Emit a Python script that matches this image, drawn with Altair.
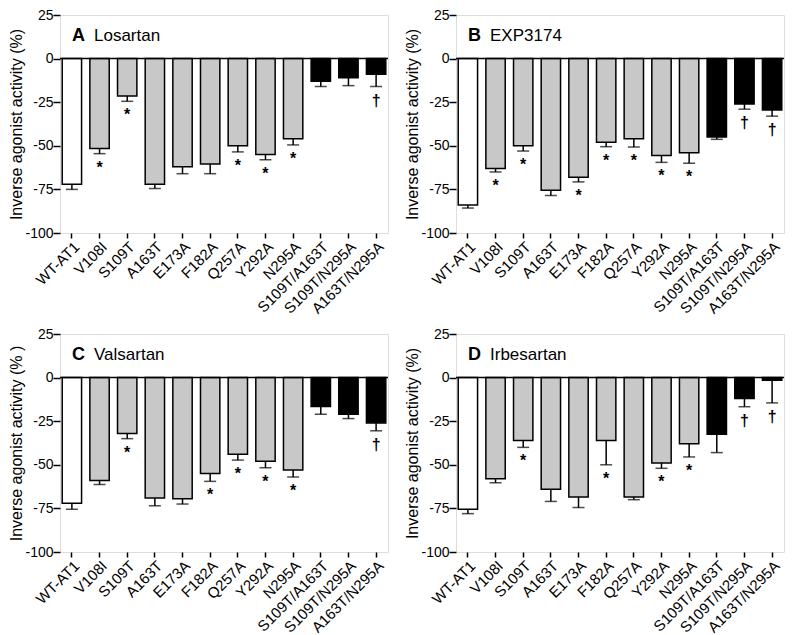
import altair as alt
import pandas as pd

categories = ["WT-AT1", "V108I", "S109T", "A163T", "E173A", "F182A", "Q257A",
              "Y292A", "N295A", "S109T/A163T", "S109T/N295A", "A163T/N295A"]
groups = ["wt", "single", "single", "single", "single", "single", "single",
          "single", "single", "double", "double", "double"]

# Panel A: Losartan
losartan_mean = [-72, -51.5, -21.5, -72, -62, -60.5, -50, -55, -46, -13, -11, -9]
losartan_sem = [3, 3, 3, 2.5, 4, 5.5, 3.5, 3, 3.5, 3, 4.5, 7]
losartan_sig = ["", "*", "*", "", "", "", "*", "*", "*", "", "", "†"]

# Panel B: EXP3174
exp_mean = [-84, -63, -50, -75.5, -68, -48, -46, -55.5, -54, -45, -26, -29.5]
exp_sem = [1.7, 2, 3, 3, 2.7, 2.5, 4.7, 4, 6, 1.3, 3, 3.5]
exp_sig = ["", "*", "*", "", "*", "*", "*", "*", "*", "", "†", "†"]

# Panel C: Valsartan
valsartan_mean = [-72, -59, -32, -69, -69.5, -55, -44, -48, -53, -16.5, -21, -26]
valsartan_sem = [3.5, 2.3, 3, 4.5, 3, 4.5, 3.3, 3.7, 4, 4.5, 2.5, 4.5]
valsartan_sig = ["", "", "*", "", "", "*", "*", "*", "*", "", "", "†"]

# Panel D: Irbesartan
irbesartan_mean = [-75.5, -58, -36, -64, -68.5, -36, -68.5, -49, -38, -32.5, -12, -1.5]
irbesartan_sem = [2.5, 2.3, 4, 7, 6, 14, 1.5, 3, 7.5, 10.5, 4.7, 13]
irbesartan_sig = ["", "", "*", "", "", "*", "", "*", "*", "", "†", "†"]

y_ticks = [-100, -75, -50, -25, 0, 25]
FONT = "Liberation Sans"
W, H = 328, 218


def panel(letter, name, mean, sem, sig, ytitle):
    df = pd.DataFrame({
        "mutant": categories,
        "group": groups,
        "value": mean,
        "sem": sem,
        "sig": sig,
    })
    df["low"] = df["value"] - df["sem"]
    base = alt.Chart(df)
    x = alt.X("mutant:N", sort=categories,
              scale=alt.Scale(paddingInner=0.3, paddingOuter=0.08),
              axis=alt.Axis(title=None, labelAngle=-45, labelFontSize=15,
                            labelFont=FONT, labelColor="black", tickColor="black",
                            tickWidth=1.5, tickSize=5, domain=False, labelPadding=1))
    y = alt.Y("value:Q", scale=alt.Scale(domain=[-100, 25], nice=False, zero=False),
              axis=alt.Axis(title=ytitle, values=y_ticks, grid=False,
                            labelExpr="datum.value + ''", labelFontSize=14,
                            labelFont=FONT, labelColor="black", tickColor="black",
                            tickWidth=1.5, tickSize=7, domain=False, labelPadding=0,
                            titleFont=FONT, titleFontSize=16, titleFontWeight="normal",
                            titleColor="black", titlePadding=0))
    bars = base.mark_bar(stroke="black", strokeWidth=1.5).encode(
        x=x, y=y,
        color=alt.Color("group:N", scale=alt.Scale(domain=["wt", "single", "double"],
                                                   range=["white", "#c8c8c8", "black"]),
                        legend=None))
    err = base.mark_rule(color="black", strokeWidth=1.5).encode(
        x=alt.X("mutant:N", sort=categories), y="value:Q", y2="low:Q")
    cap = base.mark_tick(color="black", thickness=1.5, size=12).encode(
        x=alt.X("mutant:N", sort=categories), y="low:Q")
    zero = alt.Chart(pd.DataFrame({"z": [0]})).mark_rule(color="black", strokeWidth=1.5).encode(
        y="z:Q")
    ann = base.transform_filter("datum.sig != ''").mark_text(
        baseline="top", fontSize=16, fontWeight="bold", font=FONT, color="black", dy=6).encode(
        x=alt.X("mutant:N", sort=categories), y="low:Q", text="sig:N")
    lab1 = alt.Chart(pd.DataFrame({"t": [letter]})).mark_text(
        align="left", baseline="alphabetic", fontSize=18, fontWeight="bold", font=FONT,
        color="black").encode(x=alt.value(12), y=alt.value(26), text="t:N")
    lab2 = alt.Chart(pd.DataFrame({"t": [name]})).mark_text(
        align="left", baseline="alphabetic", fontSize=17, font=FONT,
        color="black").encode(x=alt.value(34), y=alt.value(26), text="t:N")
    return alt.layer(bars, zero, err, cap, ann, lab1, lab2).properties(width=W, height=H)


yt = "Inverse agonist activity (%)"
pA = panel("A", "Losartan", losartan_mean, losartan_sem, losartan_sig, yt)
pB = panel("B", "EXP3174", exp_mean, exp_sem, exp_sig, yt)
pC = panel("C", "Valsartan", valsartan_mean, valsartan_sem, valsartan_sig,
           "Inverse agonist activity (% )")
pD = panel("D", "Irbesartan", irbesartan_mean, irbesartan_sem, irbesartan_sig, yt)

chart = alt.vconcat(
    alt.hconcat(pA, pB, spacing=14),
    alt.hconcat(pC, pD, spacing=14),
    spacing=9,
).properties(padding={"left": 0, "top": -1, "right": 0, "bottom": 0}).configure_view(
    stroke="black", strokeWidth=2
).configure(font=FONT)

chart.save("out.html", embed_options={"renderer": "svg", "actions": False})
